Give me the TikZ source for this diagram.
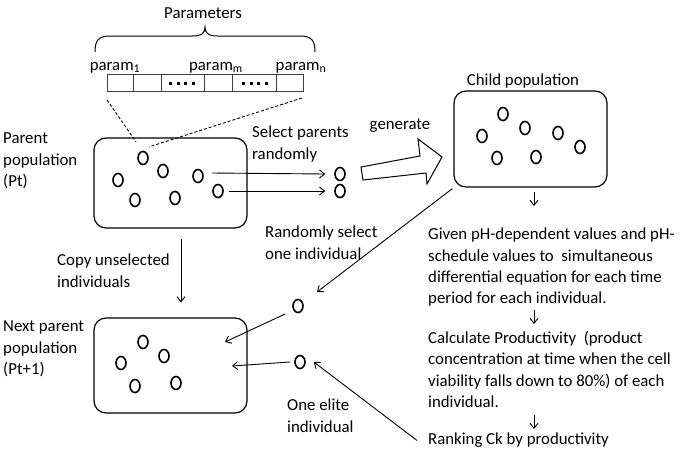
\documentclass[tikz,border=0pt]{standalone}
\usepackage{fontspec}
\setmainfont{Carlito}
\usetikzlibrary{shapes.geometric,arrows.meta}
\begin{document}
\begin{tikzpicture}[x=1pt,y=-1pt,
 txt/.style={inner sep=0, align=left, font=\fontsize{16.8}{21.3}\selectfont, anchor=north west},
 ind/.style={draw, ellipse, minimum width=10, minimum height=13, inner sep=0, line width=1.6},
 pop/.style={draw, rounded corners=12, line width=1.2, inner sep=0, minimum width=153},
 arr/.style={-{Straight Barb[length=5,width=8]}, line width=0.9},
 cellln/.style={draw, line width=0.8, black!75},
 sq/.style={fill=black, minimum size=3, inner sep=0},
 dsh/.style={dash pattern=on 3pt off 2pt, line width=0.9}]
\useasboundingbox (0,0) rectangle (683,458);

% ---- Parameters header ----
\node[txt, anchor=base] (params) at (203,18) {Parameters};
\draw[line width=1] (95,52) .. controls (95,41) and (98,36) .. (110,36) -- (192,36)
  .. controls (202,36) and (205,33) .. (205,27) .. controls (205,33) and (208,36) .. (218,36)
  -- (300,36) .. controls (312,36) and (315,41) .. (315,52);
\node[txt, anchor=base] (pm1) at (115,70) {param\textsubscript{1}};
\node[txt, anchor=base] (pmm) at (216,70) {param\textsubscript{m}};
\node[txt, anchor=base] (pmn) at (301,70) {param\textsubscript{n}};
% cells
\draw[cellln] (107,74) rectangle (303,91);
\foreach \xx in {133,161,204,232,276} \draw[cellln] (\xx,74) -- (\xx,91);
\foreach \xx in {170,178,185,193,243,251,258,266} \node[sq] at (\xx,83) {};

% ---- Parent population ----
\node[txt] (parentlbl) at (3,133) {Parent\\population\\(Pt)};
\node[pop, minimum height=90] (P) at (170.5,183) {};
\node[ind] (p1) at (143,158) {};
\node[ind] (p2) at (118,180) {};
\node[ind] (p3) at (163,171) {};
\node[ind] (p4) at (198,176) {};
\node[ind] (p5) at (218,191) {};
\node[ind] (p6) at (135,200) {};
\node[ind] (p7) at (175,198) {};

% dashed zoom lines
\coordinate (cl) at (107,100);
\coordinate (cr) at (302,98);
\draw[dsh] (cl) -- ([shift={(-7,-9)}]p1.north);
\draw[dsh] (cr) -- ([shift={(2,-6)}]p1.north east);

% selection
\node[txt] (sel) at (252,126) {Select parents\\randomly};
\node[ind] (s1) at (340,174) {};
\node[ind] (s2) at (340,191) {};
\draw[arr] ([shift={(8,-3)}]p4.east) -- ([xshift=-9]s1.west);
\draw[arr] ([xshift=5]p5.east) -- ([xshift=-9]s2.west);

% generate arrow
\node[txt, anchor=base] (gen) at (400,129) {generate};
\draw[line width=1] (361,167) -- (420,156) -- (418,139) -- (442,157) -- (427,184) -- (426,173) -- (363,180) -- cycle;

% ---- Child population ----
\node[txt, anchor=base] (childlbl) at (523,85) {Child population};
\node[pop, minimum height=96] (C) at (530.5,139) {};
\node[ind] (c1) at (503,114) {};
\node[ind] (c2) at (482,136) {};
\node[ind] (c3) at (525,128) {};
\node[ind] (c4) at (558,133) {};
\node[ind] (c5) at (580,147) {};
\node[ind] (c6) at (497,158) {};
\node[ind] (c7) at (536,157) {};

% ---- right column ----
\node[txt] (given) at (428,228) {Given pH-dependent values and pH-\\schedule values to\ \ simultaneous\\differential equation for each time\\period for each individual.};
\node[txt] (calc) at (428,331) {Calculate Productivity\ \ (product\\concentration at time when the cell\\viability falls down to 80\%) of each\\individual.};
\node[txt] (rank) at (428,433) {Ranking Ck by productivity};
\coordinate (a1) at (534,192);
\coordinate (a2) at (534,310);
\coordinate (a3) at (534,415);
\draw[arr] (a1) -- ++(0,14);
\draw[arr] (a2) -- ++(0,14);
\draw[arr] (a3) -- ++(0,14);

% ---- random one individual ----
\node[txt] (rnd) at (265,226) {Randomly select\\one individual};
\node[ind] (r1) at (298,306) {};
\coordinate (r1tip) at (317,292);
\draw[arr] ([shift={(-1,1)}]C.south west) -- (r1tip);

% ---- Next parent population ----
\node[txt] (nextlbl) at (3,321) {Next parent\\population\\(Pt+1)};
\node[pop, minimum height=95] (N) at (170.5,365.5) {};
\node[ind] (n1) at (143,342) {};
\node[ind] (n2) at (121,363) {};
\node[ind] (n3) at (164,356) {};
\node[ind] (n4) at (135,386) {};
\node[ind] (n5) at (176,383) {};

% ---- copy ----
\node[txt] (copy) at (57,254) {Copy unselected\\individuals};
\draw[arr] ([shift={(10.5,10)}]P.south) -- ([shift={(10.5,-15)}]N.north);

% ---- elite ----
\node[txt] (elite) at (287,399) {One elite\\individual};
\node[ind] (e1) at (300,362) {};
\draw[arr] ([xshift=-11]rank.west) -- ([xshift=8]e1.east);

\coordinate (in1) at (225,342);
\coordinate (in2) at (232,366);
\draw[arr] ([shift={(-13,8)}]r1.center) -- (in1);
\draw[arr] ([xshift=-10]e1.center) -- (in2);
\end{tikzpicture}
\end{document}
